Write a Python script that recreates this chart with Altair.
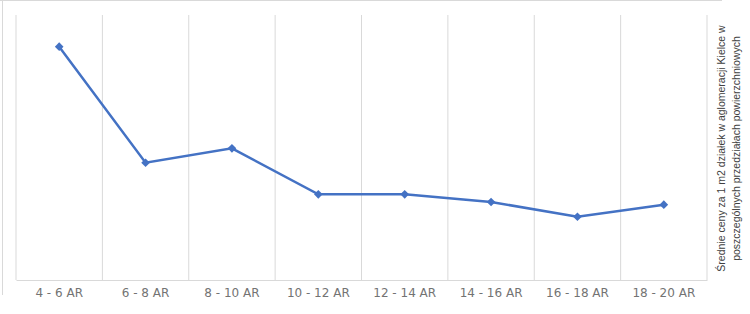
import altair as alt
import pandas as pd

categories = ["4 - 6 AR", "6 - 8 AR", "8 - 10 AR", "10 - 12 AR",
              "12 - 14 AR", "14 - 16 AR", "16 - 18 AR", "18 - 20 AR"]
prices = [140.9, 70.8, 79.5, 51.7, 51.7, 47.1, 38.2, 45.5]
title_lines = ["Średnie ceny za 1 m2 działek w aglomeracji Kielce w",
               "poszczególnych przedziałach powierzchniowych"]

df = pd.DataFrame({"cat": categories, "price": prices})

W, H = 691, 265
GRID = "#d9d9d9"
BLUE = "#4472C4"

xscale = alt.Scale(type="band", domain=categories, paddingInner=0, paddingOuter=0)
yscale = alt.Scale(domain=[0, 160])

xaxis = alt.Axis(title=None, labelAngle=0, ticks=False, grid=False,
                 domainColor=GRID, domainWidth=1,
                 labelFont="DejaVu Sans", labelFontSize=12, labelColor="#737373",
                 labelPadding=7)
yaxis = alt.Axis(orient="right", labels=False, ticks=False, domain=False, grid=False,
                 title=title_lines, titleAngle=270, titleFont="Liberation Sans",
                 titleFontSize=10.5, titleFontWeight="normal", titleColor="#404040",
                 titleBaseline="top", titleAlign="center", titleLineHeight=15,
                 titleX=9, titleY=133)

base = alt.Chart(df)

grid = base.mark_rule(color=GRID, strokeWidth=1).encode(
    x=alt.X("cat:N", scale=xscale, bandPosition=0, axis=xaxis, sort=categories),
    y=alt.value(0), y2=alt.value(H),
)
grid_end = base.transform_filter(
    alt.datum.cat == categories[-1]
).mark_rule(color=GRID, strokeWidth=1).encode(
    x=alt.X("cat:N", scale=xscale, bandPosition=1, axis=xaxis, sort=categories),
    y=alt.value(0), y2=alt.value(H),
)

line = base.mark_line(color=BLUE, strokeWidth=2.5).encode(
    x=alt.X("cat:N", scale=xscale, bandPosition=0.5, axis=xaxis, sort=categories),
    y=alt.Y("price:Q", scale=yscale, axis=yaxis),
)
pts = base.mark_point(shape="diamond", filled=True, size=75, color=BLUE, opacity=1).encode(
    x=alt.X("cat:N", scale=xscale, bandPosition=0.5, axis=xaxis, sort=categories),
    y=alt.Y("price:Q", scale=yscale, axis=yaxis),
)

border_df = pd.DataFrame({"k": [0]})
border_top = alt.Chart(border_df).mark_rule(color=GRID, strokeWidth=1).encode(
    x=alt.value(-16), x2=alt.value(W + 15), y=alt.value(-14.5)
)
border_left = alt.Chart(border_df).mark_rule(color=GRID, strokeWidth=1).encode(
    x=alt.value(-13.5), y=alt.value(-15), y2=alt.value(H + 15)
)

chart = alt.layer(grid, grid_end, line, pts, border_top, border_left).properties(
    width=W, height=H,
    autosize=alt.AutoSizeParams(type="none"),
    padding={"left": 16, "top": 15, "right": 43, "bottom": 34},
    background="white",
).configure_view(stroke=None)

chart.save("out.html", embed_options={"renderer": "svg", "actions": False})
